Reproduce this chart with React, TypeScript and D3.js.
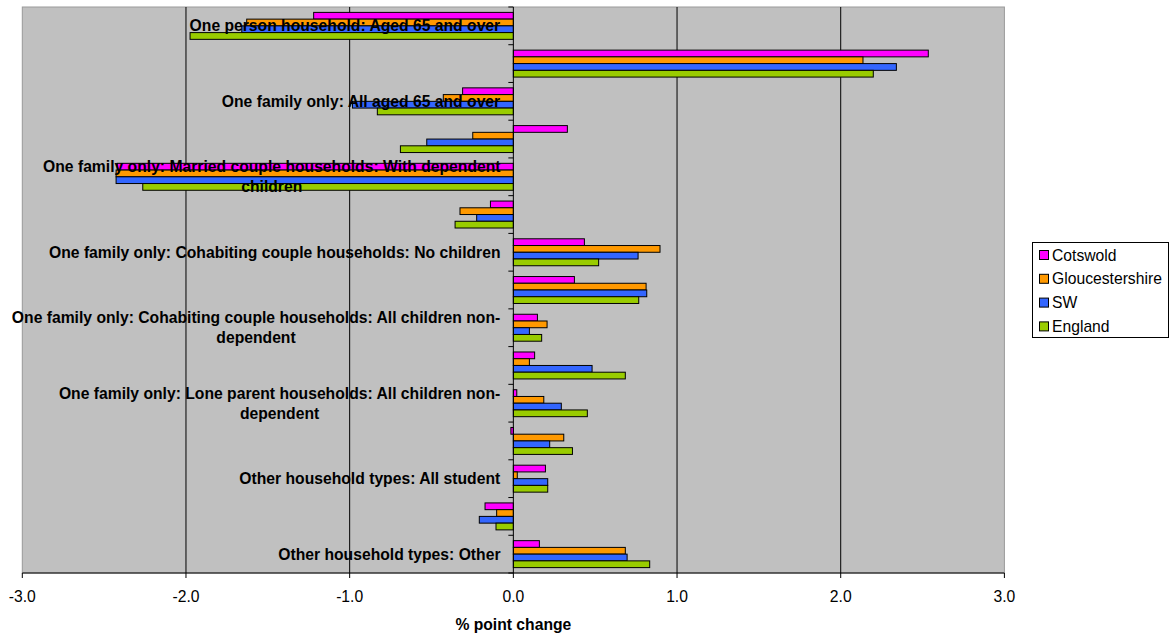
import React from "react";
import * as d3 from "d3";

const categories = [
  "One person household: Aged 65 and over",
  "One person household: Other",
  "One family only: All aged 65 and over",
  "One family only: Married couple households: No children",
  "One family only: Married couple households: With dependent children",
  "One family only: Married couple households: All children non-dependent",
  "One family only: Cohabiting couple households: No children",
  "One family only: Cohabiting couple households: With dependent children",
  "One family only: Cohabiting couple households: All children non-dependent",
  "One family only: Lone parent households: With dependent children",
  "One family only: Lone parent households: All children non-dependent",
  "Other household types: With dependent children",
  "Other household types: All student",
  "Other household types: All aged 65 and over",
  "Other household types: Other",
];

const seriesNames = ["Cotswold", "Gloucestershire", "SW", "England"];
const seriesColors = ["#FF00FF", "#FF9900", "#3366FF", "#99CC00"];

const cotswold = [-1.22, 2.535, -0.31, 0.33, -2.42, -0.14, 0.434, 0.373, 0.147, 0.13, 0.021, -0.015, 0.196, -0.173, 0.159];
const gloucestershire = [-1.629, 2.136, -0.428, -0.248, -2.427, -0.326, 0.896, 0.811, 0.206, 0.098, 0.186, 0.308, 0.024, -0.102, 0.684];
const sw = [-1.659, 2.34, -0.983, -0.529, -2.427, -0.224, 0.762, 0.815, 0.098, 0.481, 0.293, 0.222, 0.21, -0.208, 0.695];
const england = [-1.975, 2.199, -0.831, -0.69, -2.264, -0.356, 0.521, 0.766, 0.173, 0.684, 0.452, 0.361, 0.21, -0.106, 0.833];

const seriesValues = [cotswold, gloucestershire, sw, england];

const xTicks = [-3, -2, -1, 0, 1, 2, 3];
const xTitle = "% point change";

const W = 1169;
const H = 633;
const plot = { left: 22.3, right: 1004.4, top: 7, bottom: 573 };
const FONT = "'Liberation Sans', Arial, Helvetica, sans-serif";
const FS = 15.7;

let measureCtx: CanvasRenderingContext2D | null = null;
function measure(text: string, font: string): number {
  if (!measureCtx) {
    const c = document.createElement("canvas");
    measureCtx = c.getContext("2d");
  }
  if (!measureCtx) return text.length * 8.7;
  measureCtx.font = font;
  return measureCtx.measureText(text).width;
}

function wrap(text: string, maxW: number, font: string): string[] {
  const tokens: string[] = [];
  const re = /[^\s-]+-?|-/g;
  let m: RegExpExecArray | null;
  while ((m = re.exec(text)) !== null) tokens.push(m[0]);
  const lines: string[] = [];
  let cur = "";
  for (const t of tokens) {
    const sep = cur === "" || cur.endsWith("-") ? "" : " ";
    const cand = cur + sep + t;
    if (cur !== "" && measure(cand, font) > maxW) {
      lines.push(cur);
      cur = t;
    } else {
      cur = cand;
    }
  }
  if (cur) lines.push(cur);
  return lines;
}

const fmt = (t: number) => t.toFixed(1);

export default function App() {
  const x = d3.scaleLinear().domain([-3, 3]).range([plot.left, plot.right]);
  const y = d3.scaleBand<string>().domain(categories).range([plot.top, plot.bottom]).paddingInner(0).paddingOuter(0);
  const ys = d3.scaleBand<string>().domain(seriesNames).range([0, y.bandwidth()]).paddingInner(0).paddingOuter(0.8);

  const labelFont = `bold ${FS}px ${FONT}`;
  const labelRight = 500.5;
  const lineH = 20;

  return (
    <svg width={W} height={H} style={{ position: "absolute", left: 0, top: 0, background: "#fff" }} fontFamily={FONT}>
      <rect x={plot.left} y={plot.top} width={plot.right - plot.left} height={plot.bottom - plot.top} fill="#C0C0C0" stroke="#999" strokeWidth={1} />
      {xTicks.filter((t) => t !== 0 && t !== -3 && t !== 3).map((t) => (
        <line key={"g" + t} x1={x(t)} x2={x(t)} y1={plot.top} y2={plot.bottom} stroke="#000" strokeWidth={1} />
      ))}
      {categories.map((c, i) =>
        seriesNames.map((s, j) => {
          const v = seriesValues[j][i];
          const x0 = x(Math.min(0, v));
          const x1 = x(Math.max(0, v));
          return (
            <rect
              key={c + s}
              x={x0}
              y={(y(c) as number) + (ys(s) as number)}
              width={Math.max(x1 - x0, 0.5)}
              height={ys.bandwidth()}
              fill={seriesColors[j]}
              stroke="#000"
              strokeWidth={1}
            />
          );
        })
      )}
      <line x1={x(0)} x2={x(0)} y1={plot.top} y2={plot.bottom} stroke="#000" strokeWidth={1} />
      {categories.map((c, i) => (
        <line key={"yt" + i} x1={x(0) - 5} x2={x(0)} y1={y(c) as number} y2={y(c) as number} stroke="#000" strokeWidth={1} />
      ))}
      <line x1={x(0) - 5} x2={x(0)} y1={plot.bottom} y2={plot.bottom} stroke="#000" />
      <line x1={plot.left} x2={plot.right} y1={plot.bottom} y2={plot.bottom} stroke="#000" strokeWidth={1} />
      {xTicks.map((t) => (
        <g key={"xt" + t}>
          <line x1={x(t)} x2={x(t)} y1={plot.bottom} y2={plot.bottom + 5} stroke="#000" />
          <text x={x(t)} y={602} textAnchor="middle" fontSize={FS} fill="#000">
            {fmt(t)}
          </text>
        </g>
      ))}
      <text x={x(0)} y={630} textAnchor="middle" fontSize={FS} fontWeight="bold" fill="#000">
        {xTitle}
      </text>
      {categories.map((c, i) => {
        if (i % 2 !== 0) return null;
        const lines = wrap(c, 500, labelFont);
        const widths = lines.map((l) => measure(l, labelFont));
        const maxW = Math.max(...widths);
        const cx = labelRight - maxW / 2;
        const cy = (y(c) as number) + y.bandwidth() / 2;
        const startY = cy - ((lines.length - 1) * lineH) / 2;
        return (
          <text key={"lab" + i} fontSize={FS} fontWeight="bold" fill="#000" textAnchor="middle">
            {lines.map((l, k) => (
              <tspan key={k} x={cx} y={startY + k * lineH + 5.5}>
                {l}
              </tspan>
            ))}
          </text>
        );
      })}
      <rect x={1032.5} y={242.5} width={136} height={95} fill="#fff" stroke="#000" strokeWidth={1} />
      {seriesNames.map((s, j) => {
        const cy = 255 + j * 23.8;
        return (
          <g key={"lg" + s}>
            <rect x={1039.5} y={cy - 4.5} width={9} height={9} fill={seriesColors[j]} stroke="#000" strokeWidth={1} />
            <text x={1052} y={cy + 5.5} fontSize={FS} fill="#000">
              {s}
            </text>
          </g>
        );
      })}
    </svg>
  );
}
